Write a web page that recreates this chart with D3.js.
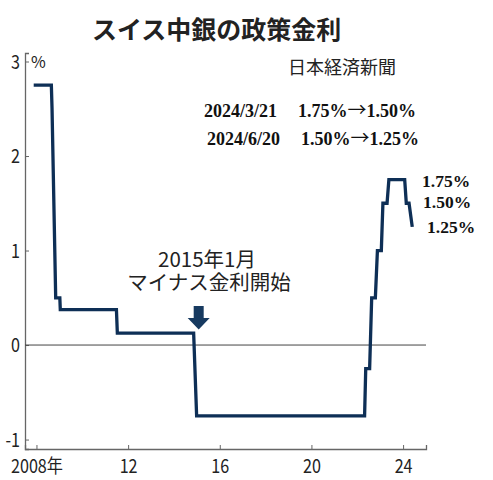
<!DOCTYPE html>
<html><head><meta charset="utf-8">
<script src="https://cdn.jsdelivr.net/npm/d3@7"></script>
<style>
html,body{margin:0;padding:0;background:#fff;}
svg{display:block;}
</style></head>
<body>
<svg id="c" width="493" height="480"></svg>
<script>
// ---- data ----
const dates = [2007.88, 2008.65, 2008.68, 2008.84, 2009.02, 2009.04, 2011.49, 2011.53, 2014.86, 2014.99,
               2022.32, 2022.37, 2022.54, 2022.63, 2022.79, 2022.88, 2023.05, 2023.12, 2023.30, 2023.38,
               2024.07, 2024.14, 2024.26, 2024.40];
const rates = [2.75, 2.75, 2.5, 0.5, 0.5, 0.375, 0.375, 0.125, 0.125, -0.75,
               -0.75, -0.25, -0.25, 0.5, 0.5, 1.0, 1.0, 1.5, 1.5, 1.75,
               1.75, 1.5, 1.5, 1.25];
const yTicks = [-1, 0, 1, 2, 3];
const xTicks = [2008, 2012, 2016, 2020, 2024];
const xTickLabels = ["2008年", "12", "16", "20", "24"];
const title = "スイス中銀の政策金利";
const source = "日本経済新聞";
const changeDates = ["2024/3/21", "2024/6/20"];
const changeFrom = ["1.75%", "1.50%"];
const changeTo = ["1.50%", "1.25%"];
const endLabels = ["1.75%", "1.50%", "1.25%"];
const noteLines = ["2015年1月", "マイナス金利開始"];
const noteYear = 2015.08;

// ---- drawing ----
const svg = d3.select("#c");
const x = d3.scaleLinear().domain([2007.5, 2025]).range([25, 426]);
const y = d3.scaleLinear().domain([-1.1, 3.09]).range([449, 53]);
const jp = "'Noto Sans CJK JP','Noto Sans',sans-serif";
const serif = "'Liberation Serif','Times New Roman',serif";

// title & source
svg.append("text").attr("x", 92).attr("y", 38.5).text(title)
  .attr("font-family", jp).attr("font-weight", "bold").attr("font-size", 25).attr("fill", "#222");
svg.append("text").attr("x", 288).attr("y", 74).text(source)
  .attr("font-family", jp).attr("font-size", 18).attr("fill", "#222");

// change notes
const cg = svg.append("g").attr("font-family", serif).attr("font-weight", "bold").attr("font-size", 18).attr("fill", "#111");
const noteY = [117, 145], dX = [204, 207], tX = [298, 301];
changeDates.forEach((d, i) => {
  cg.append("text").attr("x", dX[i]).attr("y", noteY[i]).text(d);
  const t = cg.append("text").attr("x", tX[i]).attr("y", noteY[i]);
  t.append("tspan").text(changeFrom[i]);
  t.append("tspan").attr("font-family", jp).attr("font-weight", "normal").attr("font-size", 19).text("→");
  t.append("tspan").text(changeTo[i]);
});

// axes
const yAxis = d3.axisRight(y).tickValues(yTicks).tickSize(4).tickFormat("");
const ya = svg.append("g").attr("transform", "translate(25,0)").call(yAxis);
ya.select(".domain").attr("stroke", "#666").attr("stroke-width", 1.3);
ya.selectAll(".tick line").attr("stroke", "#666");
ya.selectAll(".tick").append("text")
  .attr("transform", "translate(-5,0) scale(0.85,1)")
  .attr("dy", "0.36em").attr("text-anchor", "end")
  .attr("font-family", jp).attr("font-size", 19).attr("fill", "#222")
  .text(d => d);
svg.append("text").attr("x", 31).attr("y", y(3) + 6).text("%")
  .attr("font-family", jp).attr("font-size", 16).attr("fill", "#222");

const xAxis = d3.axisTop(x).tickValues(xTicks).tickSize(4).tickFormat("");
const xa = svg.append("g").attr("transform", "translate(0,449)").call(xAxis);
xa.select(".domain").attr("stroke", "#666").attr("stroke-width", 1.3);
xa.selectAll(".tick line").attr("stroke", "#666");
xa.selectAll(".tick").append("text")
  .attr("transform", "translate(0,24) scale(0.85,1)")
  .attr("text-anchor", "middle")
  .attr("font-family", jp).attr("font-size", 19).attr("fill", "#222")
  .text((d, i) => xTickLabels[i]);

// zero line
svg.append("line").attr("x1", x.range()[0]).attr("x2", x.range()[1])
  .attr("y1", y(0)).attr("y2", y(0)).attr("stroke", "#444").attr("stroke-width", 1);

// rate line
const pts = dates.map((d, i) => [d, rates[i]]);
svg.append("path").datum(pts)
  .attr("d", d3.line().x(d => x(d[0])).y(d => y(d[1])))
  .attr("fill", "none").attr("stroke", "#0e2f56").attr("stroke-width", 3.3)
  .attr("stroke-linejoin", "miter");

// end labels
const ex = [422, 423, 427], ey = [187, 207.5, 232.7];
endLabels.forEach((t, i) => {
  svg.append("text").attr("x", ex[i]).attr("y", ey[i]).text(t)
    .attr("font-family", serif).attr("font-weight", "bold").attr("font-size", 17.5).attr("fill", "#111");
});

// annotation
const ax = x(noteYear);
const note = svg.append("text").attr("text-anchor", "middle")
  .attr("font-family", jp).attr("font-size", 20.5).attr("fill", "#222");
note.append("tspan").attr("x", 207).attr("y", 266.5).text(noteLines[0]);
note.append("tspan").attr("x", 209).attr("y", 289.5).text(noteLines[1]);
svg.append("path")
  .attr("d", `M${ax-5},306 L${ax+5},306 L${ax+5},318 L${ax+11},318 L${ax},329.5 L${ax-11},318 L${ax-5},318 Z`)
  .attr("fill", "#173a60");
</script>
</body></html>
